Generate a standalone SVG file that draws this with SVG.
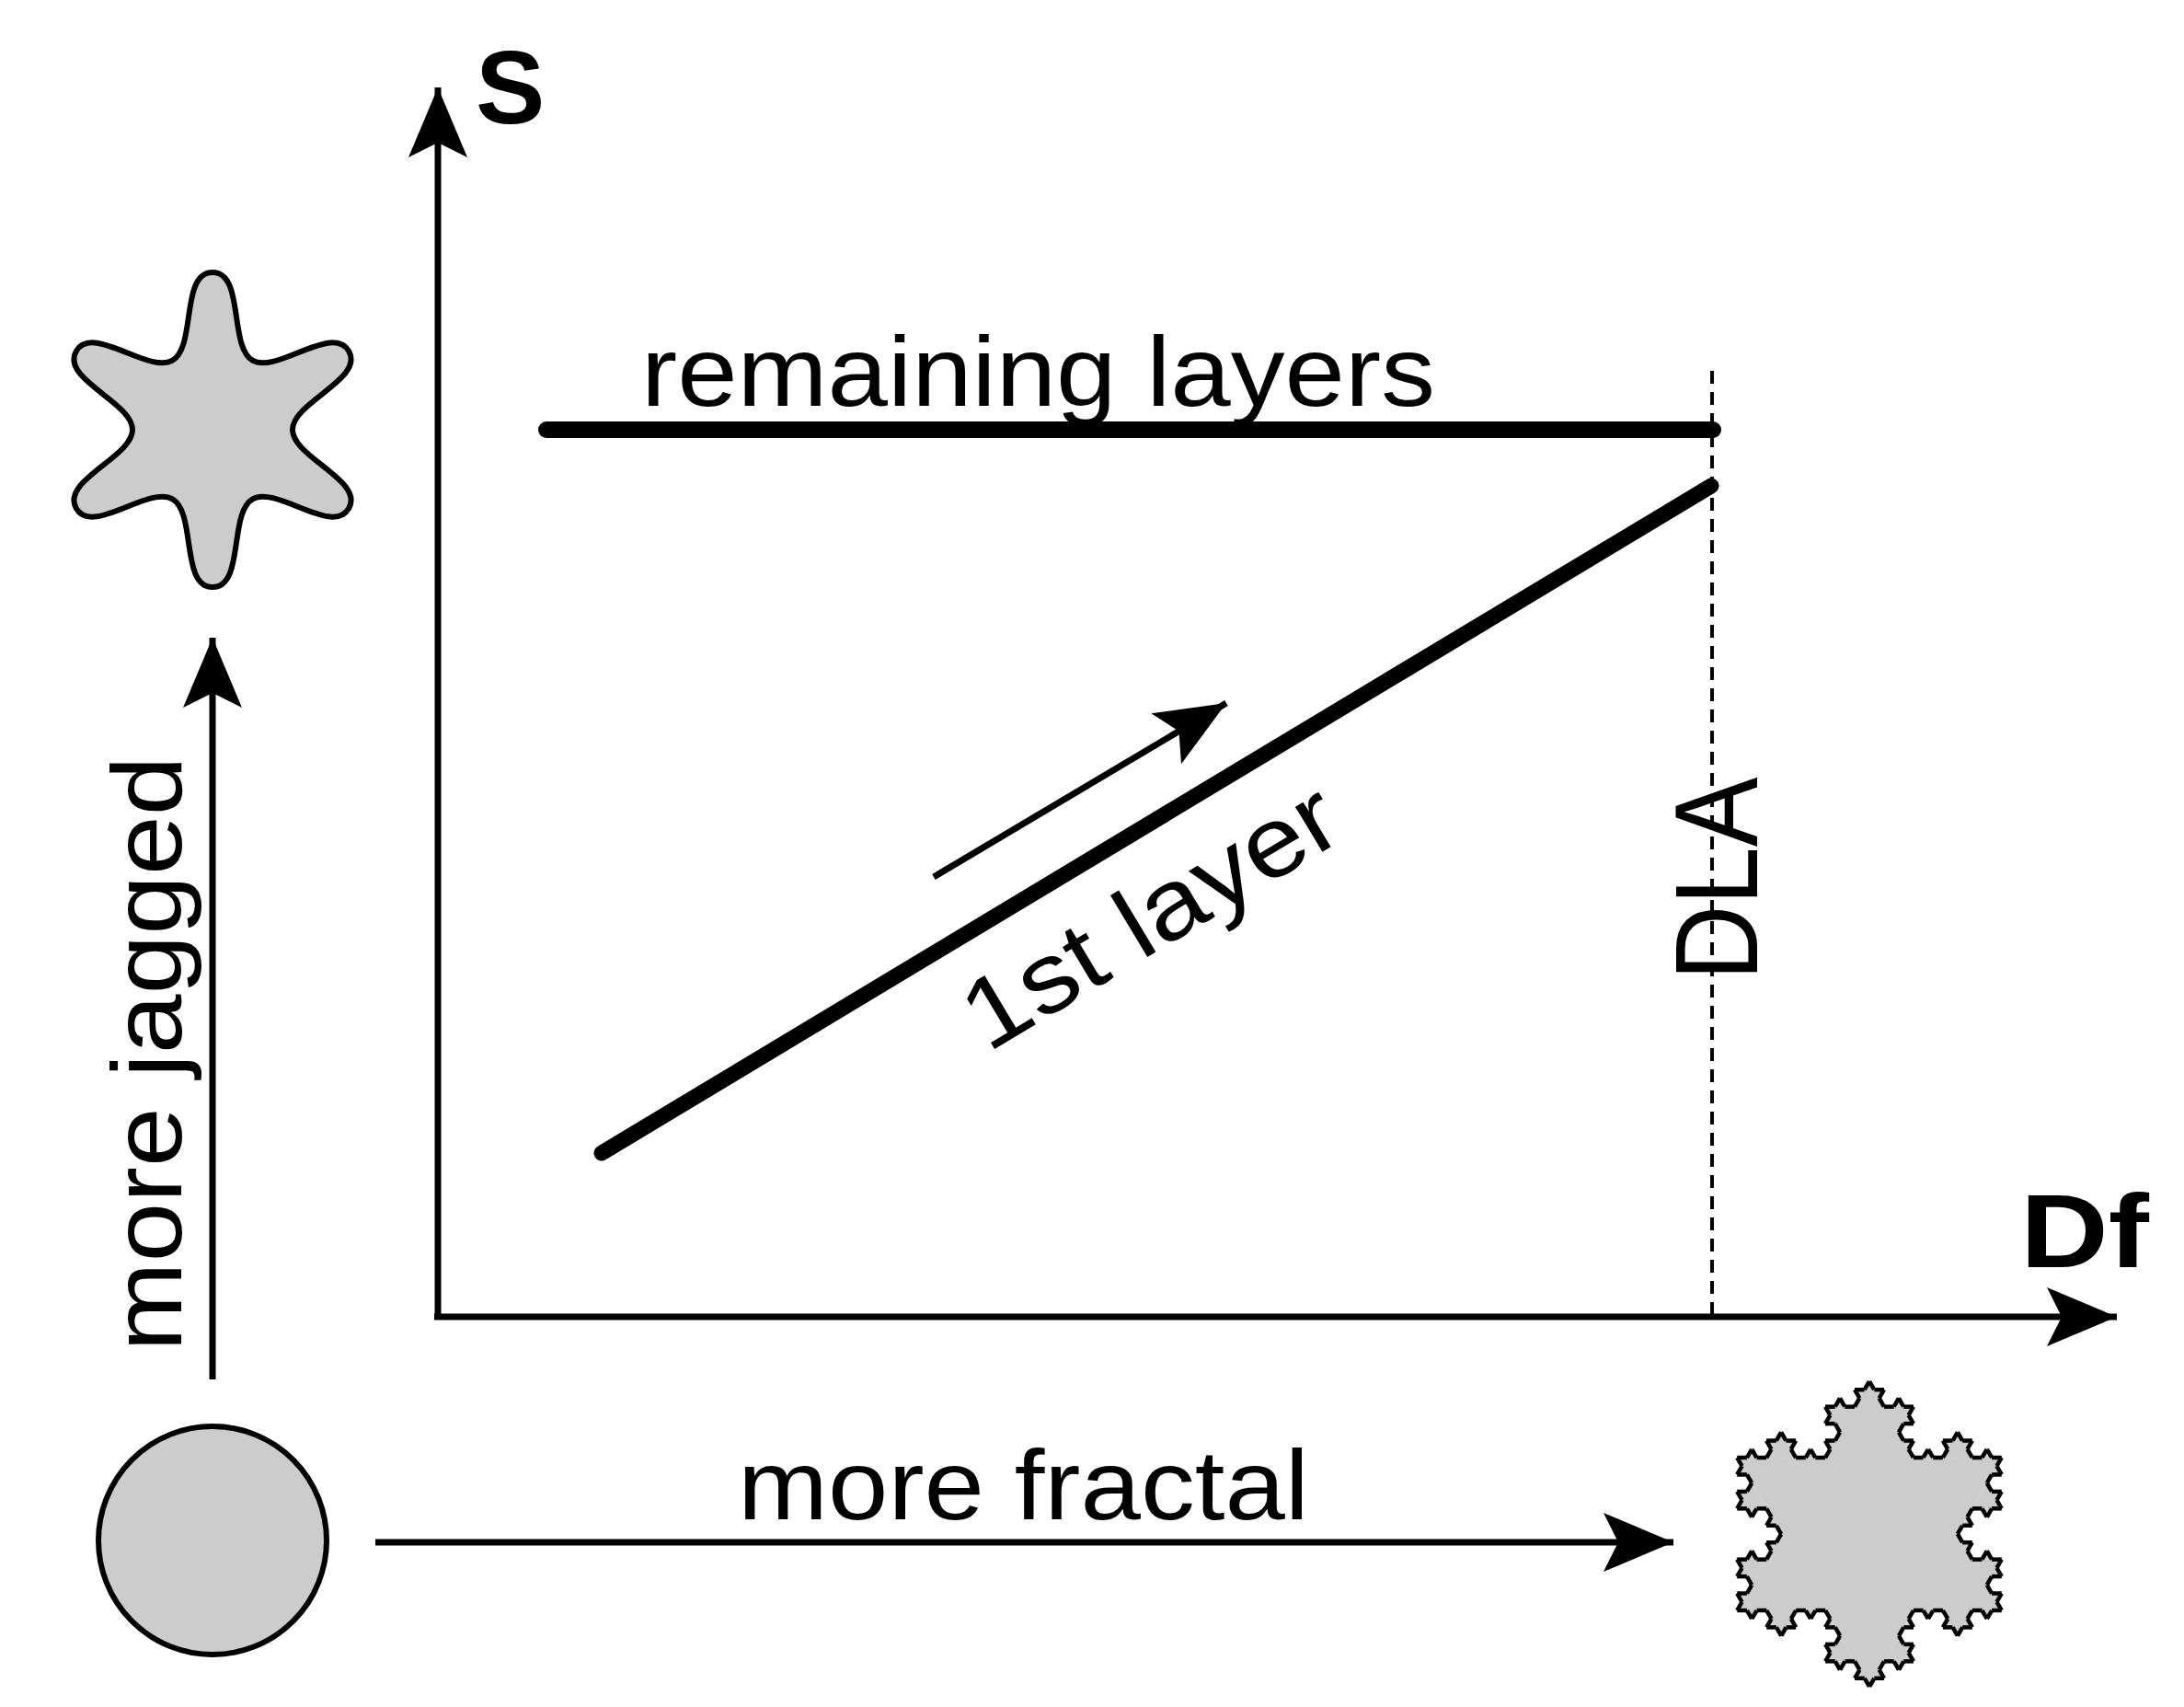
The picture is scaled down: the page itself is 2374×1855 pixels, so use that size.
<svg xmlns="http://www.w3.org/2000/svg" xmlns:xlink="http://www.w3.org/1999/xlink" width="2374" height="1855" viewBox="0 0 2374 1855">
<style>
.t{font-family:"Liberation Sans",Arial,sans-serif;fill:#000}
.b{font-weight:bold}
.ax{stroke:#000;stroke-width:7;fill:none}
.ks{fill:none;stroke:#000;stroke-width:4.5;vector-effect:non-scaling-stroke;stroke-linejoin:round}
</style>
<defs>
<marker id="ah" markerUnits="userSpaceOnUse" markerWidth="90" markerHeight="70" refX="76" refY="32" orient="auto" viewBox="0 0 90 70">
<path d="M0,0 L76,32 L0,64 L16,32 Z" fill="#000"/>
</marker>
<path id="K0" class="ks" d="M0,0 L1,0"/>
<g id="K1"><use xlink:href="#K0" transform="scale(0.33333)"/><use xlink:href="#K0" transform="translate(0.33333,0) rotate(-60) scale(0.33333)"/><use xlink:href="#K0" transform="translate(0.5,-0.288675) rotate(60) scale(0.33333)"/><use xlink:href="#K0" transform="translate(0.66667,0) scale(0.33333)"/></g>
<g id="K2"><use xlink:href="#K1" transform="scale(0.33333)"/><use xlink:href="#K1" transform="translate(0.33333,0) rotate(-60) scale(0.33333)"/><use xlink:href="#K1" transform="translate(0.5,-0.288675) rotate(60) scale(0.33333)"/><use xlink:href="#K1" transform="translate(0.66667,0) scale(0.33333)"/></g>
<g id="K3"><use xlink:href="#K2" transform="scale(0.33333)"/><use xlink:href="#K2" transform="translate(0.33333,0) rotate(-60) scale(0.33333)"/><use xlink:href="#K2" transform="translate(0.5,-0.288675) rotate(60) scale(0.33333)"/><use xlink:href="#K2" transform="translate(0.66667,0) scale(0.33333)"/></g>
<polygon id="F0" points="0.3333,0.002 0.5,-0.288675 0.6667,0.002" fill="#cccccc"/>
<g id="F1"><use xlink:href="#F0"/><use xlink:href="#F0" transform="scale(0.33333)"/><use xlink:href="#F0" transform="translate(0.33333,0) rotate(-60) scale(0.33333)"/><use xlink:href="#F0" transform="translate(0.5,-0.288675) rotate(60) scale(0.33333)"/><use xlink:href="#F0" transform="translate(0.66667,0) scale(0.33333)"/></g>
<g id="F2"><use xlink:href="#F0"/><use xlink:href="#F1" transform="scale(0.33333)"/><use xlink:href="#F1" transform="translate(0.33333,0) rotate(-60) scale(0.33333)"/><use xlink:href="#F1" transform="translate(0.5,-0.288675) rotate(60) scale(0.33333)"/><use xlink:href="#F1" transform="translate(0.66667,0) scale(0.33333)"/></g>
</defs>
<rect width="2374" height="1855" fill="#fff"/>

<g id="connectors">
<line class="ax" x1="476" y1="1431" x2="476" y2="95" marker-end="url(#ah)"/>
<line class="ax" x1="472" y1="1431" x2="2301" y2="1431" marker-end="url(#ah)"/>
<line class="ax" x1="231" y1="1499" x2="231" y2="693" marker-end="url(#ah)"/>
<line class="ax" x1="408" y1="1676" x2="1819" y2="1676" marker-end="url(#ah)"/>
<line x1="1861" y1="403" x2="1861" y2="1431" stroke="#000" stroke-width="4" stroke-dasharray="14,9"/>
<line x1="594" y1="467" x2="1862" y2="467" stroke="#000" stroke-width="18" stroke-linecap="round"/>
<line x1="654" y1="1253" x2="1860" y2="528" stroke="#000" stroke-width="17" stroke-linecap="round"/>
<line class="ax" x1="1015" y1="953" x2="1333" y2="764" marker-end="url(#ah)"/>
</g>

<g id="star">
<path d="M231,296 C266,296 248.5,376.7 274.5,391.7 C300.5,406.7 361.6,351.2 379.1,381.5 C396.6,411.8 318,437 318,467 C318,497 396.6,522.2 379.1,552.5 C361.6,582.8 300.5,527.3 274.5,542.3 C248.5,557.3 266,638 231,638 C196,638 213.5,557.3 187.5,542.3 C161.5,527.3 100.4,582.8 82.9,552.5 C65.4,522.2 144,497 144,467 C144,437 65.4,411.8 82.9,381.5 C100.4,351.2 161.5,406.7 187.5,391.7 C213.5,376.7 196,296 231,296 Z" fill="#cccccc" stroke="#000" stroke-width="6"/>
</g>

<g id="circle">
<circle cx="231" cy="1674" r="124" fill="#cccccc" stroke="#000" stroke-width="6"/>
</g>

<g id="snowflake">
<polygon points="2032,1501 2175.8,1750 1888.2,1750" fill="#cccccc"/>
<use xlink:href="#F2" transform="translate(2032,1501) rotate(60) scale(287.5)"/>
<use xlink:href="#F2" transform="translate(2175.8,1750) rotate(180) scale(287.5)"/>
<use xlink:href="#F2" transform="translate(1888.2,1750) rotate(-60) scale(287.5)"/>
<use xlink:href="#K3" transform="translate(2032,1501) rotate(60) scale(287.5)"/>
<use xlink:href="#K3" transform="translate(2175.8,1750) rotate(180) scale(287.5)"/>
<use xlink:href="#K3" transform="translate(1888.2,1750) rotate(-60) scale(287.5)"/>
</g>

<g id="labels">
<text class="t b" x="517" y="134" font-size="113">S</text>
<text class="t b" x="2196" y="1377" font-size="113" textLength="140" lengthAdjust="spacingAndGlyphs">Df</text>
<text class="t" x="697" y="441" font-size="108" textLength="863" lengthAdjust="spacingAndGlyphs">remaining layers</text>
<text class="t" x="802" y="1651" font-size="108" textLength="621" lengthAdjust="spacingAndGlyphs">more fractal</text>
<text class="t" transform="translate(197,1145) rotate(-90)" text-anchor="middle" font-size="108" textLength="647" lengthAdjust="spacingAndGlyphs">more jagged</text>
<text class="t" transform="translate(1251,997) rotate(-31)" x="0" y="35" text-anchor="middle" font-size="108" textLength="457" lengthAdjust="spacingAndGlyphs">1st layer</text>
<text class="t" transform="translate(1910,955) rotate(-90)" text-anchor="middle" font-size="128" textLength="221" lengthAdjust="spacingAndGlyphs">DLA</text>
</g>
</svg>
